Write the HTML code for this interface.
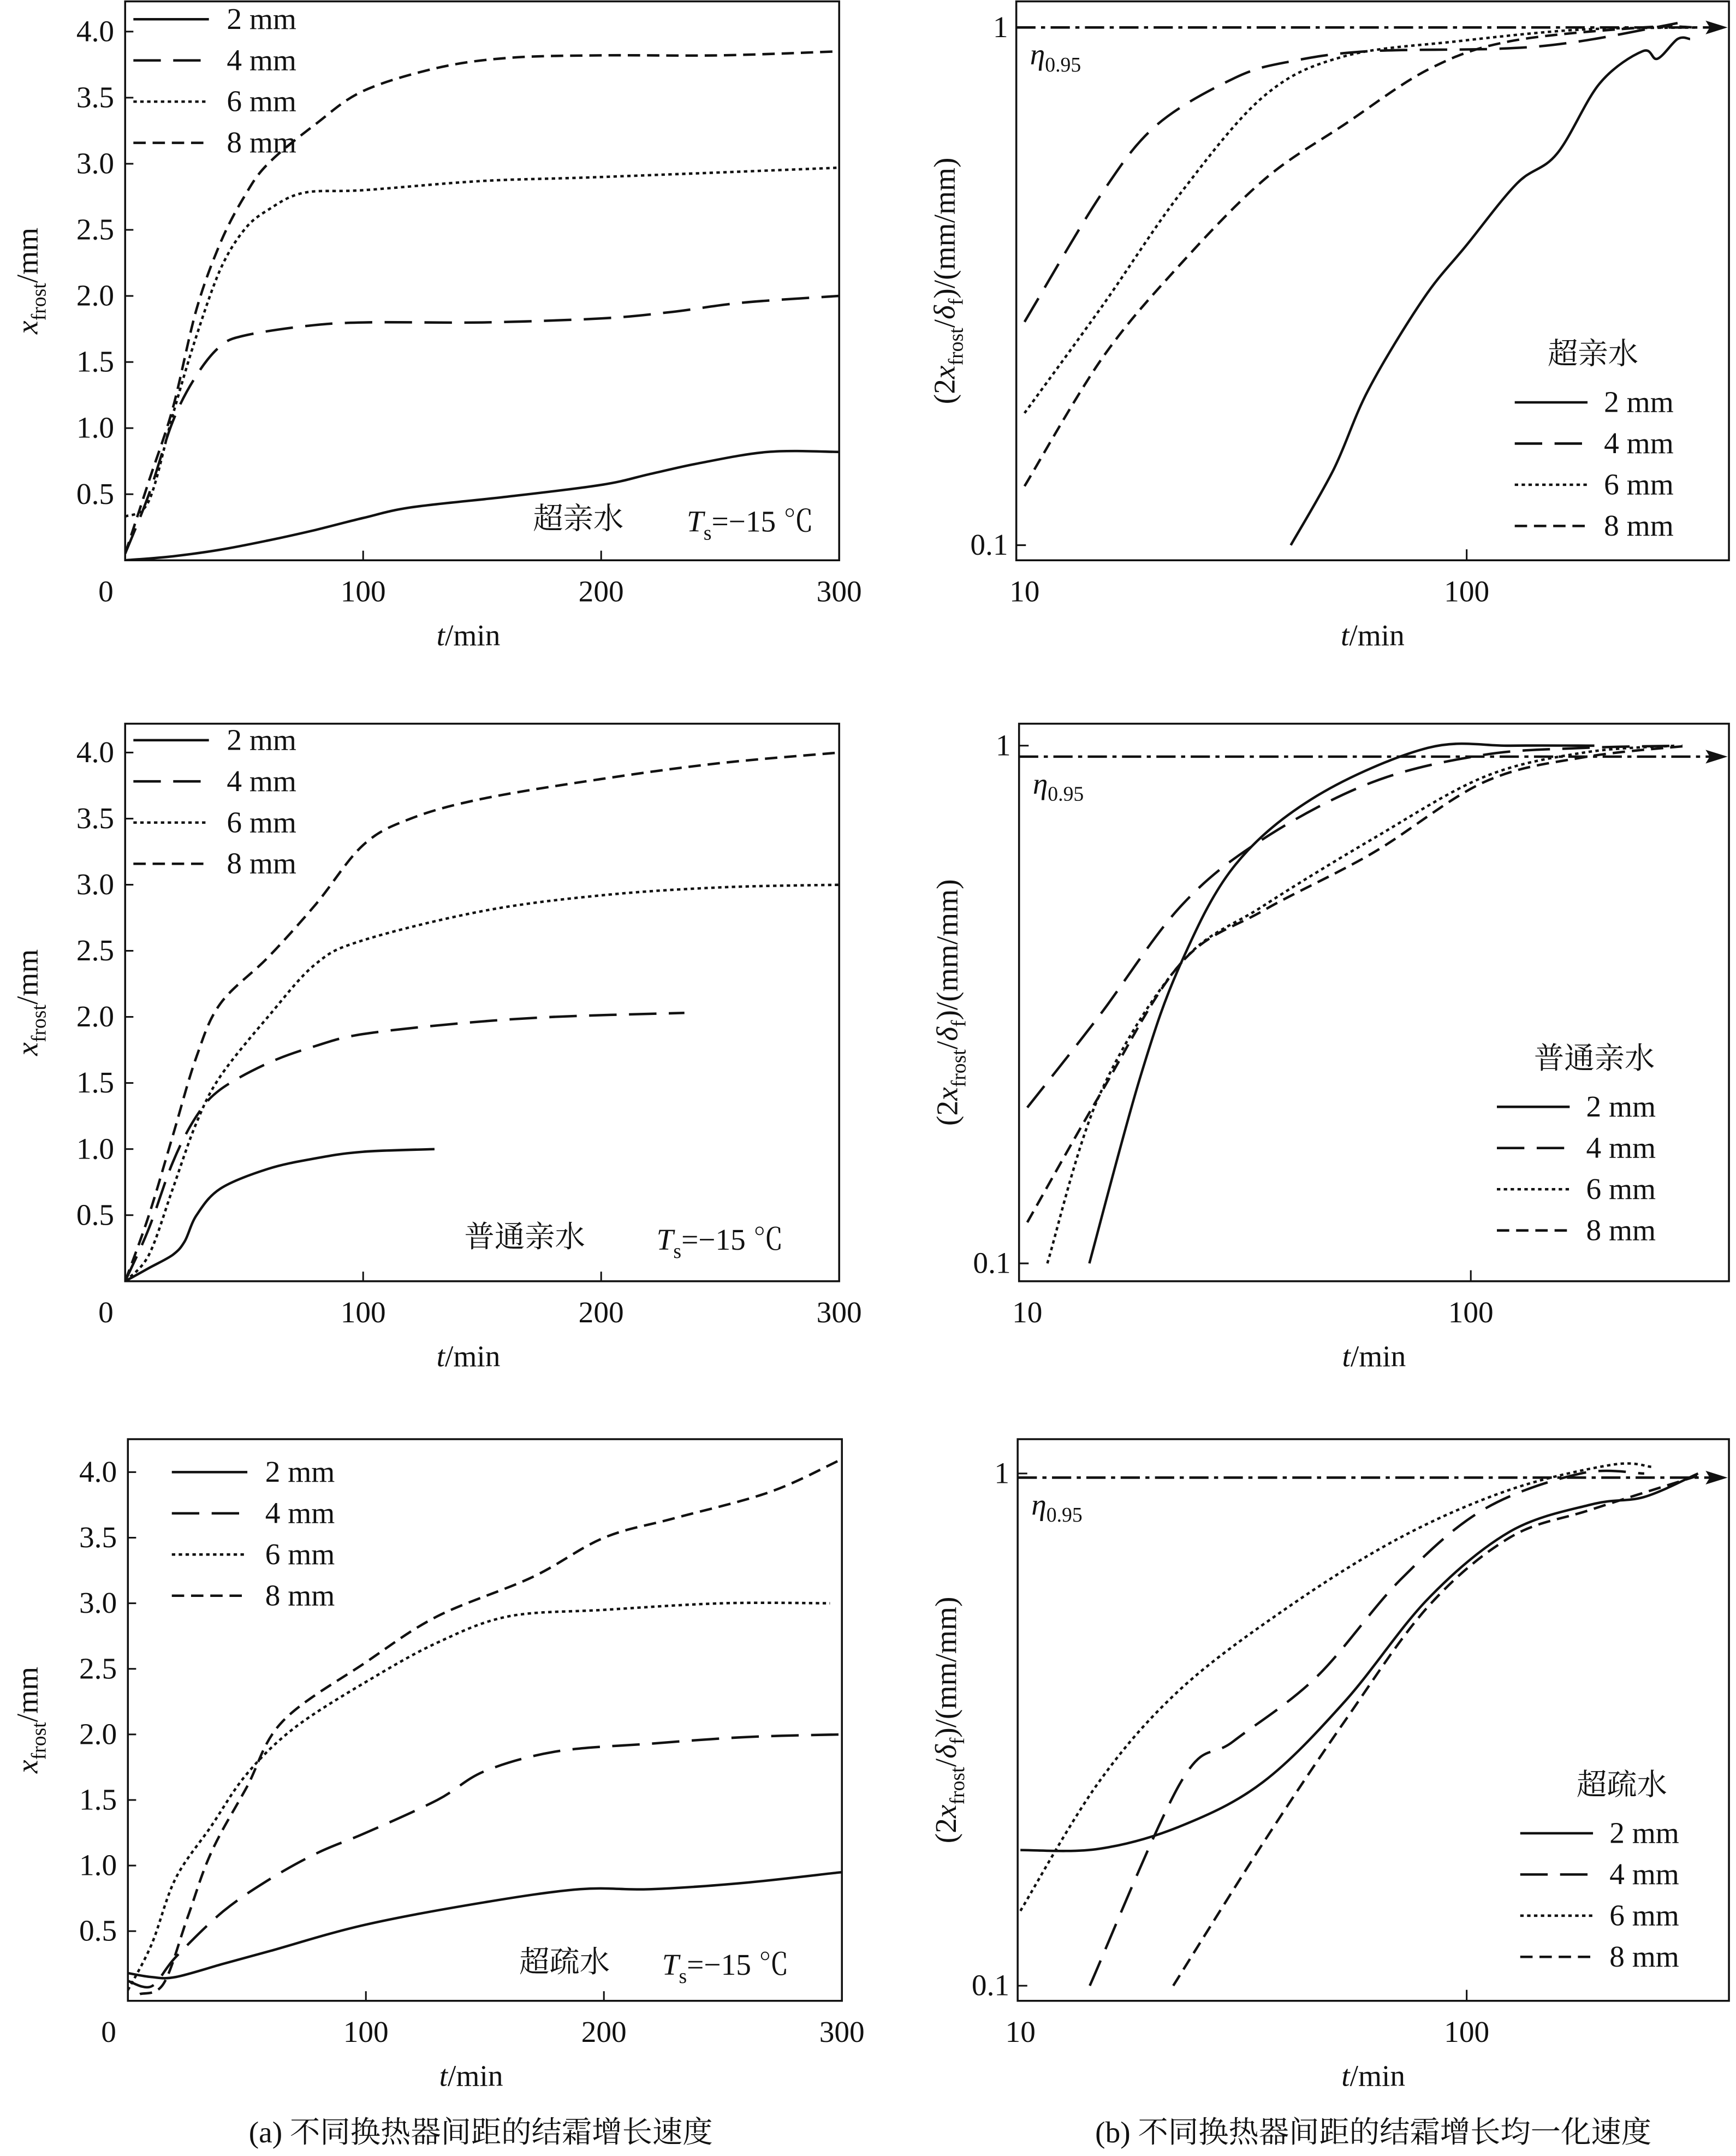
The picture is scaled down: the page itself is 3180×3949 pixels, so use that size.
<!DOCTYPE html>
<html><head><meta charset="utf-8"><style>
html,body{margin:0;padding:0;background:#fff;}
svg{display:block;}
text{font-family:"Liberation Serif","Noto Serif CJK SC","Noto Sans CJK SC",serif;fill:#111;}
</style></head><body>
<svg id="fig" width="3180" height="3949" viewBox="0 0 1264 1570" xmlns="http://www.w3.org/2000/svg"></svg>
<script>
// ---------- DATA ----------
const leftTimes_A2=[0,20,40,60,80,100,120,160,200,220,240,270,300];
const leftVals_A2=[0,0.03,0.08,0.15,0.23,0.32,0.4,0.48,0.57,0.65,0.73,0.82,0.82];
const leftTimes_A4=[0,10,20,30,40,50,75,100,150,200,230,260,300];
const leftVals_A4=[0.05,0.5,1.05,1.4,1.62,1.7,1.77,1.8,1.8,1.83,1.88,1.95,2.0];
const leftTimes_A6=[0,10,20,30,40,50,60,75,100,150,200,300];
const leftVals_A6=[0.33,0.45,1.1,1.7,2.2,2.5,2.65,2.78,2.8,2.87,2.9,2.97];
const leftTimes_A8=[0,10,20,30,40,50,60,80,100,130,160,200,250,300];
const leftVals_A8=[0.05,0.6,1.15,1.9,2.4,2.75,3.0,3.3,3.55,3.72,3.8,3.82,3.82,3.85];

const leftTimes_B2=[0,10,20,25,30,40,60,80,100,130];
const leftVals_B2=[0,0.1,0.2,0.3,0.5,0.7,0.85,0.93,0.98,1.0];
const leftTimes_B4=[0,10,20,30,40,60,80,100,140,180,235];
const leftVals_B4=[0,0.4,0.9,1.25,1.45,1.65,1.78,1.87,1.95,2.0,2.03];
const leftTimes_B6=[0,10,20,30,40,60,80,100,150,200,250,300];
const leftVals_B6=[0,0.2,0.7,1.2,1.55,2.0,2.4,2.58,2.8,2.92,2.98,3.0];
const leftTimes_B8=[0,10,20,30,40,60,80,100,120,150,200,250,300];
const leftVals_B8=[0,0.5,1.1,1.7,2.1,2.45,2.85,3.3,3.5,3.65,3.8,3.92,4.0];

const leftTimes_C2=[0,10,20,40,60,100,150,190,220,260,300];
const leftVals_C2=[0.18,0.15,0.15,0.25,0.35,0.55,0.72,0.82,0.82,0.87,0.95];
const leftTimes_C4=[0,10,20,40,60,80,100,130,150,180,220,260,300];
const leftVals_C4=[0.12,0.08,0.3,0.65,0.9,1.1,1.25,1.5,1.72,1.87,1.93,1.98,2.0];
const leftTimes_C6=[0,10,20,35,50,70,100,130,160,200,250,295];
const leftVals_C6=[0.05,0.4,0.9,1.3,1.7,2.05,2.4,2.7,2.9,2.95,3.0,3.0];
const leftTimes_C8=[5,15,25,35,50,65,100,130,170,200,230,270,300];
const leftVals_C8=[0.02,0.1,0.6,1.1,1.6,2.1,2.55,2.9,3.2,3.5,3.65,3.85,4.1];

const rightTimes_A2=[40,50,60,80,100,130,160,200,250,270,300,320];
const rightVals_A2=[0.1,0.14,0.2,0.3,0.38,0.5,0.57,0.78,0.9,0.87,0.95,0.95];
const rightTimes_A4=[10,15,20,30,40,60,120,180,300];
const rightVals_A4=[0.27,0.48,0.65,0.8,0.86,0.9,0.91,0.94,1.02];
const rightTimes_A6=[10,15,22.6,35,53,95,180,330];
const rightVals_A6=[0.18,0.29,0.48,0.74,0.88,0.94,0.99,1.0];
const rightTimes_A8=[10,15,22.6,35,53,82,125,250,330];
const rightVals_A8=[0.13,0.23,0.35,0.51,0.65,0.83,0.94,1.0,1.0];

const rightTimes_B2=[13.8,18,22.2,29.5,45,80,123,190];
const rightVals_B2=[0.1,0.23,0.38,0.59,0.8,0.99,1.0,1.0];
const rightTimes_B4=[10,14.5,22.2,34,60,107,180,300];
const rightVals_B4=[0.2,0.3,0.49,0.66,0.85,0.96,0.99,1.0];
const rightTimes_B6=[11.1,14.5,22.2,34,60,107,180,290];
const rightVals_B6=[0.1,0.21,0.38,0.49,0.66,0.87,0.97,1.0];
const rightTimes_B8=[10,14.5,22.2,34,60,107,180,310];
const rightVals_B8=[0.12,0.21,0.38,0.48,0.62,0.85,0.95,1.0];

const rightTimes_C2=[10,15,22.9,35,53.5,82,125,190,250,330];
const rightVals_C2=[0.184,0.185,0.205,0.25,0.36,0.57,0.77,0.87,0.9,1.0];
const rightTimes_C4=[14.3,22.9,30,46,71,109,180,250];
const rightVals_C4=[0.1,0.25,0.3,0.4,0.62,0.85,1.0,1.0];
const rightTimes_C6=[10,15,22.9,40,71,125,212,260];
const rightVals_C6=[0.14,0.25,0.38,0.55,0.75,0.93,1.04,1.03];
const rightTimes_C8=[22,35,53.5,82,125,190,330];
const rightVals_C8=[0.1,0.19,0.33,0.55,0.75,0.85,0.99];

const leftYTicks=[0.5,1.0,1.5,2.0,2.5,3.0,3.5,4.0];
const leftXTicks=[0,100,200,300];
const rightXTicks=[10,100];
const legendLabels=['2 mm','4 mm','6 mm','8 mm'];

// ---------- DRAW ----------
const NS='http://www.w3.org/2000/svg';
const svg=document.getElementById('fig');
const dashes=['none','20 9','2.5 2.5','9 5'];
const FS=22, SW=1.8;
function el(tag,attrs,parent){const e=document.createElementNS(NS,tag);for(const k in attrs)e.setAttribute(k,attrs[k]);(parent||svg).appendChild(e);return e;}
function txt(x,y,s,size,anchor,parent,style){const t=el('text',{x:x,y:y,'font-size':size,'text-anchor':anchor||'start'},parent);if(style)t.setAttribute('style',style);t.innerHTML=s;return t;}
function smooth(pts){let d='M'+pts[0][0].toFixed(1)+','+pts[0][1].toFixed(1);for(let i=0;i<pts.length-1;i++){const p0=pts[i-1]||pts[i],p1=pts[i],p2=pts[i+1],p3=pts[i+2]||p2;const c1=[p1[0]+(p2[0]-p0[0])/6,p1[1]+(p2[1]-p0[1])/6],c2=[p2[0]-(p3[0]-p1[0])/6,p2[1]-(p3[1]-p1[1])/6];d+=' C'+c1[0].toFixed(1)+','+c1[1].toFixed(1)+' '+c2[0].toFixed(1)+','+c2[1].toFixed(1)+' '+p2[0].toFixed(1)+','+p2[1].toFixed(1);}return d;}

function leftPanel(id,box,y0,y4,series,legY,legX,ann){
  const g=el('g',{});
  
  
  const cid='clip-a-'+id;
  const cp=el('clipPath',{id:cid},g);el('rect',{x:box.x0,y:box.y0,width:box.x1-box.x0,height:box.y1-box.y0},cp);
  const X=t=>box.x0+(box.x1-box.x0)*t/300;
  const Y=v=>y0+(y4-y0)*v/4;
  const frame=el('rect',{x:box.x0,y:box.y0,width:box.x1-box.x0,height:box.y1-box.y0,fill:'none',stroke:'#111','stroke-width':1.4},g);
  
  
  leftYTicks.forEach(v=>{el('line',{x1:box.x0,x2:box.x0+6,y1:Y(v),y2:Y(v),stroke:'#111','stroke-width':1.2},g);const t=txt(box.x0-8,Y(v)+7,v.toFixed(1),FS,'end',g);});
  leftXTicks.forEach(v=>{if(v>0&&v<300)el('line',{x1:X(v),x2:X(v),y1:box.y1,y2:box.y1-7,stroke:'#111','stroke-width':1.2},g);const t=txt(X(v)+(v==0?-14:0),box.y1+30,String(v),FS,'middle',g);});
  const xt=txt((box.x0+box.x1)/2-10,box.y1+62,'<tspan font-style="italic">t</tspan>/min',FS,'middle',g);
  
  const cy=(box.y0+box.y1)/2;
  const yt=txt(0,0,'<tspan font-style="italic">x</tspan><tspan font-size="15" dy="6">frost</tspan><tspan dy="-6">/mm</tspan>',FS,'middle',g);
  yt.setAttribute('transform','translate(27,'+cy+') rotate(-90)');
  
  series.forEach((s,i)=>{
    const pts=s[0].map((t,k)=>[X(t),Y(s[1][k])]);
    const p=el('path',{d:smooth(pts),fill:'none',stroke:'#111','stroke-width':SW,'stroke-dasharray':dashes[i],'clip-path':'url(#'+cid+')'},g);
    
    
    const ly=legY+30*i;
    const ll=el('line',{x1:legX,x2:legX+55,y1:ly,y2:ly,stroke:'#111','stroke-width':SW,'stroke-dasharray':dashes[i]},g);
    
    const lt=txt(legX+68,ly+7,legendLabels[i],FS,'start',g);
    
  });
  const a1=txt(ann[0],ann[2],ann[3],FS,'start',g,'font-family:"Noto Serif CJK SC","Noto Sans CJK SC",serif');
  
  const a2=txt(ann[1],ann[2]+2,'<tspan font-style="italic">T</tspan><tspan font-size="15" dy="6">s</tspan><tspan dy="-6">=−15 ℃</tspan>',FS,'start',g);
  
}

function rightPanel(id,box,x10,x100,y1,y01,series,legX,legY,title,titleX,etaY){
  const g=el('g',{});
  
  
  const cid='clip-b-'+id;
  const cp=el('clipPath',{id:cid},g);el('rect',{x:box.x0,y:box.y0,width:box.x1-box.x0,height:box.y1-box.y0},cp);
  const X=t=>x10+(x100-x10)*(Math.log10(t)-1);
  const Y=v=>y1+(y01-y1)*(-Math.log10(v));
  const frame=el('rect',{x:box.x0,y:box.y0,width:box.x1-box.x0,height:box.y1-box.y0,fill:'none',stroke:'#111','stroke-width':1.4},g);
  
  [[1,'1'],[0.1,'0.1']].forEach(a=>{el('line',{x1:box.x0,x2:box.x0+7,y1:Y(a[0]),y2:Y(a[0]),stroke:'#111','stroke-width':1.2},g);const t=txt(box.x0-6,Y(a[0])+7,a[1],FS,'end',g);});
  rightXTicks.forEach(v=>{if(v==100)el('line',{x1:X(v),x2:X(v),y1:box.y1,y2:box.y1-8,stroke:'#111','stroke-width':1.2},g);const t=txt(X(v),box.y1+30,String(v),FS,'middle',g);});
  const xt=txt((box.x0+box.x1)/2,box.y1+62,'<tspan font-style="italic">t</tspan>/min',FS,'middle',g);
  
  const cy=(box.y0+box.y1)/2;
  const yt=txt(0,0,'(2<tspan font-style="italic">x</tspan><tspan font-size="15" dy="6">frost</tspan><tspan dy="-6">/</tspan><tspan font-style="italic">δ</tspan><tspan font-size="15" dy="6">f</tspan><tspan dy="-6">)/(mm/mm)</tspan>',FS,'middle',g);
  yt.setAttribute('transform','translate('+(box.x0-45)+','+cy+') rotate(-90)');
  
  const eta=el('line',{x1:box.x0,x2:box.x1-8,y1:etaY,y2:etaY,stroke:'#111','stroke-width':SW,'stroke-dasharray':'14 4 3 4'},g);
  
  el('path',{d:'M'+(box.x1-1)+','+etaY+' l-16,-5 l3,5 l-3,5 z',fill:'#111'},g);
  const el95=txt(box.x0+10,etaY+27,'<tspan font-style="italic">η</tspan><tspan font-size="15" dy="5">0.95</tspan>',FS,'start',g);
  
  const tt=txt(titleX,legY-28,title,FS,'start',g,'font-family:"Noto Serif CJK SC","Noto Sans CJK SC",serif');
  
  series.forEach((s,i)=>{
    const pts=s[0].map((t,k)=>[X(t),Y(s[1][k])]);
    const p=el('path',{d:smooth(pts),fill:'none',stroke:'#111','stroke-width':SW,'stroke-dasharray':dashes[i],'clip-path':'url(#'+cid+')'},g);
    
    
    const ly=legY+30*i;
    const ll=el('line',{x1:legX,x2:legX+53,y1:ly,y2:ly,stroke:'#111','stroke-width':SW,'stroke-dasharray':dashes[i]},g);
    
    const lt=txt(legX+65,ly+7,legendLabels[i],FS,'start',g);
    
  });
}

leftPanel('superhydrophilic',{x0:91,x1:611,y0:1,y1:408},408,23,
 [[leftTimes_A2,leftVals_A2],[leftTimes_A4,leftVals_A4],[leftTimes_A6,leftVals_A6],[leftTimes_A8,leftVals_A8]],
 14,97,[388,500,385,'超亲水']);
leftPanel('hydrophilic',{x0:91,x1:611,y0:527,y1:933},933,548,
 [[leftTimes_B2,leftVals_B2],[leftTimes_B4,leftVals_B4],[leftTimes_B6,leftVals_B6],[leftTimes_B8,leftVals_B8]],
 539,97,[338,478,908,'普通亲水']);
leftPanel('superhydrophobic',{x0:93,x1:613,y0:1048,y1:1457},1454,1072,
 [[leftTimes_C2,leftVals_C2],[leftTimes_C4,leftVals_C4],[leftTimes_C6,leftVals_C6],[leftTimes_C8,leftVals_C8]],
 1072,125,[378,482,1436,'超疏水']);

rightPanel('superhydrophilic',{x0:740,x1:1259,y0:1,y1:408},746,1068,20,397,
 [[rightTimes_A2,rightVals_A2],[rightTimes_A4,rightVals_A4],[rightTimes_A6,rightVals_A6],[rightTimes_A8,rightVals_A8]],
 1103,293,'超亲水',1127,20);
rightPanel('hydrophilic',{x0:742,x1:1259,y0:527,y1:933},748,1071,543,920,
 [[rightTimes_B2,rightVals_B2],[rightTimes_B4,rightVals_B4],[rightTimes_B6,rightVals_B6],[rightTimes_B8,rightVals_B8]],
 1090,806,'普通亲水',1117,551);
rightPanel('superhydrophobic',{x0:741,x1:1259,y0:1048,y1:1457},743,1068,1073,1446,
 [[rightTimes_C2,rightVals_C2],[rightTimes_C4,rightVals_C4],[rightTimes_C6,rightVals_C6],[rightTimes_C8,rightVals_C8]],
 1107,1335,'超疏水',1148,1076);

const c1=txt(350,1560,'(a) 不同换热器间距的结霜增长速度',FS,'middle',null,'font-family:"Liberation Serif","Noto Serif CJK SC",serif');

const c2=txt(1000,1560,'(b) 不同换热器间距的结霜增长均一化速度',FS,'middle',null,'font-family:"Liberation Serif","Noto Serif CJK SC",serif');

</script>
</body></html>
